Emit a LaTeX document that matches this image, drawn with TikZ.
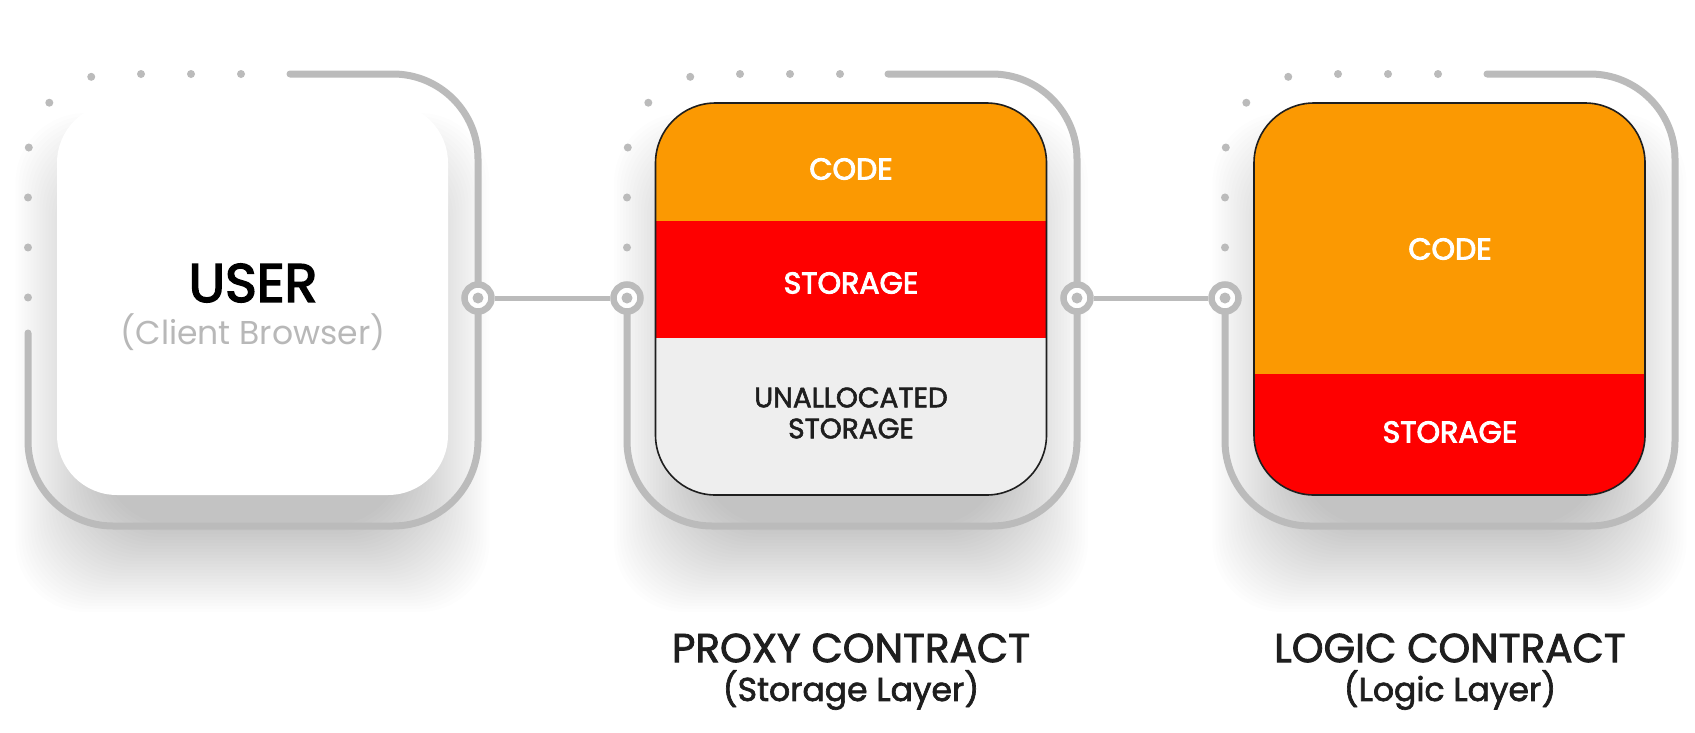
\documentclass[tikz,border=0pt]{standalone}
\usepackage{fontspec}
\setmainfont{Poppins}
\newfontfamily\medfont{Poppins}[FakeBold=2]
\newfontfamily\semifont{Poppins}[FakeBold=3]
\definecolor{fr}{HTML}{BBBBBB}
\definecolor{org}{HTML}{FB9902}
\definecolor{rd}{HTML}{FE0000}
\definecolor{ua}{HTML}{EEEEEE}
\definecolor{ink}{HTML}{1E1E1E}
\definecolor{soft}{HTML}{B8B8B8}
\begin{document}
\begin{tikzpicture}[x=1pt,y=-1pt,
  frameline/.style={draw=fr, line width=7pt, line cap=round, rounded corners=85pt},
  dotline/.style={draw=fr, line width=8pt, line cap=round, dash pattern=on 0pt off 50pt, rounded corners=85pt},
  card/.style={rectangle, minimum width=391pt, minimum height=392pt, rounded corners=60pt, inner sep=0pt},
  shadowlayer/.style={fill=black, fill opacity=0.0065, rounded corners=70pt},
  port/.style={circle, draw=fr, line width=6.5pt, fill=white, minimum size=27pt, inner sep=0pt},
  conn/.style={draw=fr, line width=5pt},
  band/.style={font=\semifont\fontsize{30}{33}\selectfont, text=white},
  dark/.style={font=\medfont\fontsize{28}{31}\selectfont, text=ink, align=center},
  title/.style={font=\medfont\fontsize{40.5}{44}\selectfont, text=ink},
  sub/.style={font=\medfont\fontsize{33}{36}\selectfont, text=ink}
]
\useasboundingbox (0,0) rectangle (1695,732);
\fill[white] (0,0) rectangle (1695,732);

% soft shadows
\foreach \cx in {252.5,851,1449.5}
  \foreach \i in {0,...,29}
    \fill[shadowlayer] (\cx-150-3*\i, 200-3*\i) rectangle (\cx+150+3*\i, 525+3*\i);

% cards
\node[card, fill=white] (user) at (252.5,299) {};
\node[card, fill=ua, draw=ink, line width=1.6pt,
  path picture={
    \fill[org, sharp corners] (path picture bounding box.north west) rectangle ([yshift=-118pt]path picture bounding box.north east);
    \fill[rd, sharp corners] ([yshift=-118pt]path picture bounding box.north west) rectangle ([yshift=-235pt]path picture bounding box.north east);
  }] (proxy) at (851,299) {};
\node[card, fill=rd, draw=ink, line width=1.6pt,
  path picture={
    \fill[org, sharp corners] (path picture bounding box.north west) rectangle ([yshift=-271pt]path picture bounding box.north east);
  }] (logic) at (1449.5,299) {};

% frames
\draw[frameline] (290,74) -- (478,74) -- (478,526) -- (28,526) -- (28,333);
\draw[dotline] (241,74) -- (28,74) -- (28,298);
\draw[frameline] (888,74) -- (1077,74) -- (1077,526) -- (627,526) -- (627,298);
\draw[dotline] (840,74) -- (627,74) -- (627,248);
\draw[frameline] (1487,74) -- (1675,74) -- (1675,526) -- (1225,526) -- (1225,298);
\draw[dotline] (1438,74) -- (1225,74) -- (1225,248);

% ports
\node[port] (u1) at (478,298) {};
\node[port] (p1) at (627,298) {};
\node[port] (p2) at (1077,298) {};
\node[port] (l1) at (1225,298) {};
\foreach \n in {u1,p1,p2,l1} \fill[fr] (\n.center) circle (5.5pt);
\draw[conn] (u1) -- (p1);
\draw[conn] (p2) -- (l1);

% texts
\node[font=\semifont\fontsize{54}{58}\selectfont, text=black] (usert) at (253,283) {USER};
\node[font=\fontsize{33}{36}\selectfont, text=soft] (users) at (253,332) {(Client Browser)};
\node[band] (pcode) at (851,169) {CODE};
\node[band] (pstor) at (851,283) {STORAGE};
\node[dark] (pun) at (851,413) {UNALLOCATED\\STORAGE};
\node[band] (lcode) at (1450,249) {CODE};
\node[band] (lstor) at (1450,432) {STORAGE};
\node[title] (pt) at (851,648) {PROXY CONTRACT};
\node[sub] (ps) at (851,690) {(Storage Layer)};
\node[title] (lt) at (1450,648) {LOGIC CONTRACT};
\node[sub] (ls) at (1450,690) {(Logic Layer)};
\end{tikzpicture}
\end{document}
